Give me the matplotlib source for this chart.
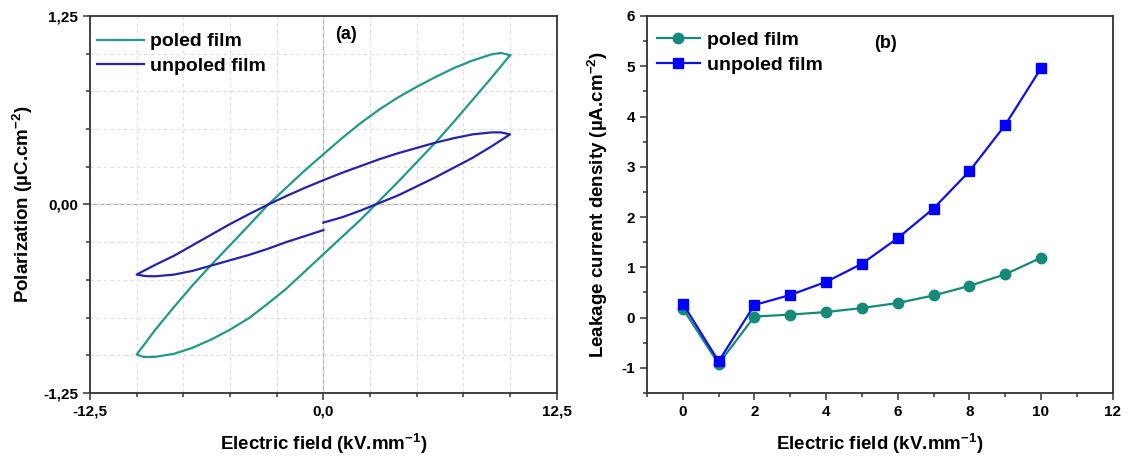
import matplotlib
matplotlib.use("Agg")
import matplotlib.pyplot as plt
from matplotlib.ticker import MultipleLocator

plt.rcParams["font.family"] = ["Liberation Sans", "DejaVu Sans"]
plt.rcParams["font.weight"] = "bold"
plt.rcParams["mathtext.fontset"] = "custom"
plt.rcParams["mathtext.rm"] = "Liberation Sans:bold"
plt.rcParams["mathtext.bf"] = "Liberation Sans:bold"
plt.rcParams["axes.unicode_minus"] = False

# ---- (a) P-E hysteresis loops ----
poled_E = [10.0, 9.5, 9.0, 8.0, 7.0, 6.0, 5.0, 4.0, 3.0, 2.0, 1.0, 0.0, -1.0, -2.0, -2.95,
           -4.0, -5.0, -6.0, -7.0, -8.0, -9.0, -9.6, -10.0,
           -9.6, -9.0, -8.0, -7.0, -6.0, -5.0, -4.0, -3.0, -2.0, -1.0, 0.0, 1.0, 2.0, 2.8,
           4.0, 5.0, 6.0, 7.0, 8.0, 9.0, 10.0]
poled_P = [0.99, 1.005, 0.995, 0.955, 0.905, 0.845, 0.78, 0.71, 0.63, 0.54, 0.44, 0.333, 0.225, 0.11, 0.0,
           -0.14, -0.27, -0.40, -0.535, -0.68, -0.83, -0.93, -0.995,
           -1.012, -1.01, -0.99, -0.95, -0.895, -0.83, -0.755, -0.66, -0.56, -0.445, -0.33, -0.215, -0.10, 0.0,
           0.15, 0.28, 0.41, 0.55, 0.695, 0.84, 0.99]

unpoled_E = [0.0, 1.0, 2.0, 2.8, 4.0, 5.0, 6.0, 7.0, 8.0, 9.0, 10.0,
             9.5, 9.0, 8.0, 7.0, 6.0, 5.0, 4.0, 3.0, 2.0, 1.0, 0.0, -1.0, -2.0, -2.95,
             -4.0, -5.0, -6.0, -7.0, -8.0, -9.0, -9.7, -10.0,
             -9.5, -9.0, -8.0, -7.0, -6.0, -5.0, -4.0, -3.0, -2.0, -1.0, 0.0]
unpoled_P = [-0.12, -0.085, -0.04, 0.0, 0.06, 0.12, 0.18, 0.245, 0.31, 0.385, 0.465,
             0.478, 0.478, 0.465, 0.44, 0.41, 0.375, 0.34, 0.30, 0.255, 0.21, 0.161, 0.11, 0.055, 0.0,
             -0.065, -0.13, -0.20, -0.27, -0.34, -0.40, -0.445, -0.465,
             -0.475, -0.476, -0.465, -0.44, -0.405, -0.37, -0.335, -0.295, -0.25, -0.21, -0.17]

# ---- (b) leakage current density ----
field = [0, 1, 2, 3, 4, 5, 6, 7, 8, 9, 10]
leak_poled = [0.18, -0.92, 0.02, 0.06, 0.11, 0.19, 0.29, 0.44, 0.63, 0.86, 1.19]
leak_unpoled = [0.28, -0.87, 0.25, 0.45, 0.71, 1.07, 1.58, 2.17, 2.91, 3.83, 4.96]

teal_a = "#22998a"
blue_a = "#2424aa"
teal_b = "#168a78"
blue_b = "#1010e8"

fig = plt.figure(figsize=(11.33, 4.59), dpi=100)
ax1 = fig.add_axes([0.0794, 0.1438, 0.412, 0.8214])
ax2 = fig.add_axes([0.571, 0.1438, 0.411, 0.8214])

# ---------- panel (a) ----------
ax1.plot(poled_E, poled_P, color=teal_a, lw=1.6, label="poled film")
ax1.plot(unpoled_E, unpoled_P, color=blue_a, lw=1.6, label="unpoled film")
ax1.set_xlim(-12.5, 12.5)
ax1.set_ylim(-1.25, 1.25)
ax1.set_xticks([-12.5, 0, 12.5], ["-12,5", "0,0", "12,5"])
ax1.set_yticks([-1.25, 0, 1.25], ["-1,25", "0,00", "1,25"])
ax1.xaxis.set_minor_locator(MultipleLocator(2.5))
ax1.yaxis.set_minor_locator(MultipleLocator(0.25))
ax1.grid(which="both", ls=(0, (3, 3)), color="#dddddd", lw=0.8)
ax1.axhline(0, color="#b0b0b0", lw=0.9, zorder=1)
ax1.axvline(0, color="#b0b0b0", lw=0.9, zorder=1)
ax1.set_xlabel("Electric field (kV.mm$^{-1}$)", fontsize=13.5, fontweight="bold", labelpad=9)
ax1.set_ylabel("Polarization (µC.cm$^{-2}$)", fontsize=13.5, fontweight="bold", labelpad=6)
ax1.text(1.2, 1.13, "(a)", fontsize=13, fontweight="bold", ha="center", va="center")
ax1.legend(loc="upper left", bbox_to_anchor=(-0.011, 0.989), frameon=False, handlelength=2.4,
           handletextpad=0.3, labelspacing=0.35, borderaxespad=0.25, prop={"weight": "bold", "size": 14})

# ---------- panel (b) ----------
ax2.plot(field, leak_poled, color=teal_b, lw=1.6, marker="o", ms=7.5, label="poled film")
ax2.plot(field, leak_unpoled, color=blue_b, lw=1.6, marker="s", ms=7, mfc="#0000ff", mec="#0000ff",
         label="unpoled film")
ax2.set_xlim(-1, 12)
ax2.set_ylim(-1.5, 6)
ax2.set_xticks(range(0, 13, 2))
ax2.set_yticks(range(-1, 7))
ax2.xaxis.set_minor_locator(MultipleLocator(1))
ax2.yaxis.set_minor_locator(MultipleLocator(0.5))
ax2.set_xlabel("Electric field (kV.mm$^{-1}$)", fontsize=13.5, fontweight="bold", labelpad=9)
ax2.set_ylabel("Leakage current density (µA.cm$^{-2}$)", fontsize=13.5, fontweight="bold", labelpad=8)
ax2.text(5.67, 5.46, "(b)", fontsize=13, fontweight="bold", ha="center", va="center")
ax2.legend(loc="upper left", bbox_to_anchor=(-0.006, 0.992), frameon=False, handlelength=2.2,
           handletextpad=0.4, labelspacing=0.35, borderaxespad=0.25, prop={"weight": "bold", "size": 14})

for ax in (ax1, ax2):
    for s in ax.spines.values():
        s.set_color("#333333")
        s.set_linewidth(1.3)
    ax.tick_params(which="both", direction="out", top=False, right=False, color="#333333", width=1.1)
    ax.tick_params(which="major", length=5, labelsize=11)
    ax.tick_params(which="minor", length=3)
    for lab in ax.get_xticklabels() + ax.get_yticklabels():
        lab.set_fontweight("bold")

fig.savefig("out.png", dpi=100)
